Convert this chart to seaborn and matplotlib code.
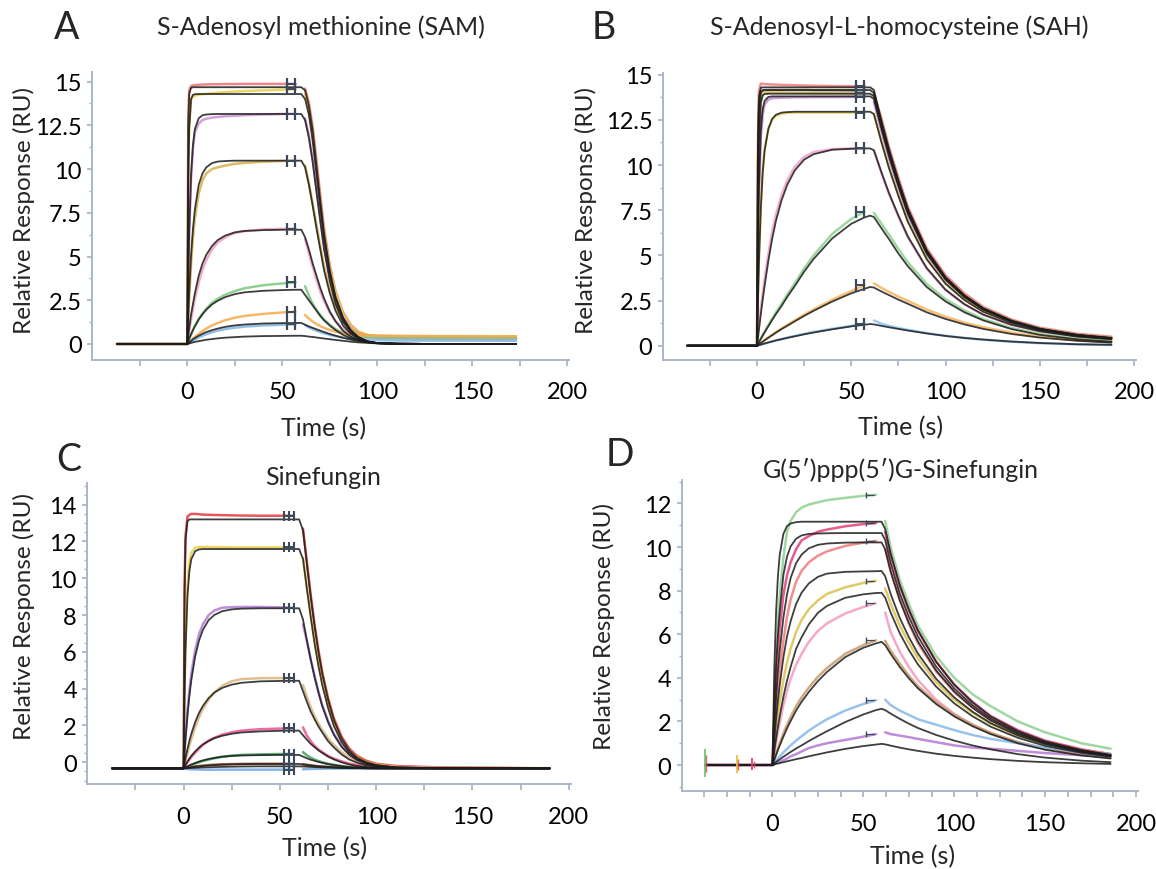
import numpy as np
import pandas as pd
import matplotlib
matplotlib.use("Agg")
import matplotlib.pyplot as plt
import seaborn as sns
from matplotlib.ticker import FixedLocator, FuncFormatter

# ---------------- A: S-Adenosyl methionine (SAM) ----------------
t_a_on = [-37, 0, 0.5, 1, 2, 3, 4, 6, 8, 10, 13, 16, 20, 25, 30, 40, 50, 57, 60]
t_a_off = [62, 64, 66, 68, 70, 72, 75, 78, 82, 86, 90, 95, 100, 110, 130, 173]
fit_a_on = [
    [0, 0, 12.5, 14.3, 14.65, 14.68, 14.68, 14.68, 14.68, 14.68, 14.68, 14.68, 14.68, 14.68, 14.68, 14.68, 14.68, 14.68, 14.68],
    [0, 0, 9.0, 12.3, 14.0, 14.25, 14.28, 14.29, 14.29, 14.29, 14.29, 14.29, 14.29, 14.29, 14.29, 14.29, 14.29, 14.29, 14.29],
    [0, 0, 3.7, 6.4, 9.7, 11.4, 12.3, 12.9, 13.08, 13.12, 13.14, 13.15, 13.15, 13.15, 13.15, 13.15, 13.15, 13.15, 13.15],
    [0, 0, 1.6, 3.0, 5.1, 6.6, 7.7, 9.1, 9.75, 10.1, 10.34, 10.43, 10.46, 10.48, 10.48, 10.48, 10.48, 10.48, 10.48],
    [0, 0, 0.47, 0.9, 1.7, 2.3, 2.9, 3.9, 4.6, 5.1, 5.6, 5.94, 6.2, 6.38, 6.46, 6.51, 6.53, 6.53, 6.53],
    [0, 0, 0.15, 0.3, 0.56, 0.8, 1.02, 1.4, 1.7, 1.96, 2.26, 2.47, 2.68, 2.85, 2.95, 3.04, 3.08, 3.1, 3.1],
    [0, 0, 0.05, 0.1, 0.18, 0.27, 0.34, 0.47, 0.58, 0.68, 0.79, 0.88, 0.98, 1.06, 1.11, 1.17, 1.19, 1.2, 1.2],
    [0, 0, 0.02, 0.03, 0.06, 0.09, 0.12, 0.16, 0.2, 0.24, 0.28, 0.32, 0.36, 0.39, 0.42, 0.45, 0.46, 0.47, 0.47],
]
fit_a_off = [
    [14.5, 13.6, 12.2, 10.2, 8.2, 6.3, 4.2, 2.7, 1.5, 0.8, 0.4, 0.15, 0.05, 0.01, 0, 0],
    [14.0, 13.1, 11.6, 9.7, 7.8, 6.0, 4.0, 2.6, 1.4, 0.75, 0.38, 0.14, 0.05, 0.01, 0, 0],
    [12.8, 11.8, 10.4, 8.7, 7.0, 5.4, 3.6, 2.3, 1.25, 0.68, 0.35, 0.13, 0.05, 0.01, 0, 0],
    [10.1, 9.1, 7.9, 6.6, 5.4, 4.2, 2.9, 1.9, 1.05, 0.58, 0.3, 0.12, 0.05, 0.01, 0, 0],
    [6.1, 5.4, 4.6, 3.9, 3.2, 2.6, 1.85, 1.3, 0.75, 0.42, 0.24, 0.1, 0.04, 0.01, 0, 0],
    [2.8, 2.5, 2.2, 1.9, 1.6, 1.35, 1.05, 0.8, 0.52, 0.33, 0.2, 0.1, 0.04, 0.01, 0, 0],
    [1.1, 1.0, 0.92, 0.84, 0.76, 0.68, 0.57, 0.47, 0.35, 0.25, 0.17, 0.1, 0.05, 0.02, 0, 0],
    [0.45, 0.42, 0.4, 0.37, 0.34, 0.31, 0.27, 0.23, 0.18, 0.13, 0.09, 0.06, 0.03, 0.01, 0, 0],
]
obs_a_on = [
    [0, 0, 12.8, 14.5, 14.75, 14.78, 14.8, 14.82, 14.83, 14.84, 14.85, 14.85, 14.86, 14.86, 14.87, 14.87, 14.87, 14.87],
    [0, 0, 9.2, 12.5, 14.0, 14.15, 14.2, 14.25, 14.28, 14.3, 14.33, 14.36, 14.4, 14.43, 14.46, 14.5, 14.54, 14.56],
    [0, 0, 3.5, 6.2, 9.5, 11.2, 12.1, 12.6, 12.8, 12.88, 12.94, 12.98, 13.02, 13.05, 13.08, 13.12, 13.15, 13.16],
    [0, 0, 1.4, 2.6, 4.6, 6.1, 7.2, 8.6, 9.35, 9.75, 10.0, 10.1, 10.2, 10.3, 10.35, 10.42, 10.46, 10.48],
    [0, 0, 0.4, 0.75, 1.4, 2.0, 2.6, 3.5, 4.25, 4.8, 5.4, 5.8, 6.1, 6.35, 6.45, 6.55, 6.58, 6.6],
    [0, 0, 0.15, 0.3, 0.55, 0.8, 1.02, 1.42, 1.75, 2.02, 2.35, 2.58, 2.82, 3.02, 3.18, 3.36, 3.46, 3.52],
    [0, 0, 0.05, 0.1, 0.2, 0.3, 0.4, 0.58, 0.74, 0.88, 1.06, 1.2, 1.36, 1.5, 1.6, 1.72, 1.8, 1.84],
    [0, 0, 0.04, 0.07, 0.14, 0.2, 0.26, 0.37, 0.47, 0.56, 0.67, 0.76, 0.85, 0.93, 0.99, 1.06, 1.1, 1.12],
]
obs_a_off = [
    [14.6, 13.8, 12.4, 10.5, 8.5, 6.6, 4.5, 3.0, 1.8, 1.1, 0.7, 0.5, 0.42, 0.38, 0.33, 0.3],
    [14.3, 13.4, 11.9, 10.0, 8.1, 6.3, 4.3, 2.9, 1.7, 1.05, 0.68, 0.5, 0.45, 0.42, 0.38, 0.36],
    [12.9, 11.9, 10.5, 8.8, 7.2, 5.6, 3.8, 2.5, 1.5, 0.9, 0.6, 0.42, 0.36, 0.33, 0.3, 0.28],
    [10.2, 9.2, 8.0, 6.8, 5.6, 4.4, 3.1, 2.1, 1.3, 0.85, 0.6, 0.5, 0.47, 0.45, 0.43, 0.42],
    [6.0, 5.2, 4.4, 3.7, 3.0, 2.45, 1.8, 1.3, 0.85, 0.6, 0.45, 0.38, 0.34, 0.32, 0.3, 0.28],
    [3.3, 2.75, 2.3, 1.95, 1.65, 1.4, 1.1, 0.85, 0.62, 0.48, 0.42, 0.38, 0.36, 0.35, 0.34, 0.33],
    [1.66, 1.45, 1.28, 1.14, 1.02, 0.92, 0.8, 0.7, 0.6, 0.54, 0.5, 0.48, 0.47, 0.46, 0.45, 0.44],
    [1.08, 0.95, 0.85, 0.76, 0.68, 0.61, 0.52, 0.45, 0.37, 0.31, 0.27, 0.24, 0.22, 0.2, 0.19, 0.18],
]
colors_a = ["#f07070", "#e6cf4a", "#cc8fd6", "#d9b04a", "#f29cc4", "#7cc77c", "#f7a94f", "#7fb5e6"]

# ---------------- B: S-Adenosyl-L-homocysteine (SAH) ----------------
t_b_on = [-37, 0, 0.5, 1, 2, 3, 4, 6, 8, 10, 13, 16, 20, 25, 30, 40, 50, 57, 60]
t_b_off = [62, 66, 70, 75, 80, 90, 100, 110, 120, 135, 150, 170, 188]
fit_b_on = [
    [0, 0, 11.2, 13.8, 14.28, 14.3, 14.3, 14.3, 14.3, 14.3, 14.3, 14.3, 14.3, 14.3, 14.3, 14.3, 14.3, 14.3, 14.3],
    [0, 0, 10.1, 13.0, 14.05, 14.14, 14.15, 14.15, 14.15, 14.15, 14.15, 14.15, 14.15, 14.15, 14.15, 14.15, 14.15, 14.15, 14.15],
    [0, 0, 7.6, 11.3, 13.45, 13.86, 13.93, 13.95, 13.95, 13.95, 13.95, 13.95, 13.95, 13.95, 13.95, 13.95, 13.95, 13.95, 13.95],
    [0, 0, 5.4, 8.7, 11.9, 13.1, 13.55, 13.77, 13.8, 13.8, 13.8, 13.8, 13.8, 13.8, 13.8, 13.8, 13.8, 13.8, 13.8],
    [0, 0, 2.5, 4.6, 7.6, 9.6, 10.8, 12.0, 12.55, 12.78, 12.9, 12.93, 12.95, 12.95, 12.95, 12.95, 12.95, 12.95, 12.95],
    [0, 0, 0.45, 0.9, 1.75, 2.55, 3.3, 4.7, 5.9, 6.9, 8.05, 8.9, 9.7, 10.3, 10.6, 10.85, 10.9, 10.92, 10.92],
    [0, 0, 0.1, 0.19, 0.38, 0.56, 0.74, 1.08, 1.42, 1.75, 2.2, 2.7, 3.3, 4.1, 4.8, 5.95, 6.75, 7.1, 7.2],
    [0, 0, 0.04, 0.08, 0.15, 0.22, 0.3, 0.44, 0.58, 0.72, 0.92, 1.1, 1.35, 1.65, 1.93, 2.45, 2.9, 3.15, 3.25],
    [0, 0, 0.01, 0.03, 0.06, 0.09, 0.12, 0.18, 0.23, 0.29, 0.36, 0.43, 0.52, 0.63, 0.73, 0.91, 1.07, 1.16, 1.2],
]
fit_b_off = [
    [14.16, 12.44, 10.87, 9.15, 7.58, 5.29, 3.79, 2.79, 2.07, 1.39, 0.94, 0.6, 0.43],
    [14.0, 12.31, 10.75, 9.06, 7.5, 5.24, 3.75, 2.76, 2.05, 1.37, 0.93, 0.59, 0.42],
    [13.81, 12.14, 10.6, 8.93, 7.39, 5.16, 3.7, 2.72, 2.02, 1.35, 0.92, 0.59, 0.42],
    [13.66, 12.0, 10.49, 8.83, 7.31, 5.1, 3.66, 2.69, 2.0, 1.34, 0.91, 0.58, 0.41],
    [12.82, 11.27, 9.84, 8.29, 6.86, 4.79, 3.43, 2.53, 1.88, 1.26, 0.85, 0.54, 0.39],
    [10.82, 9.6, 8.45, 7.2, 6.05, 4.3, 3.1, 2.3, 1.72, 1.16, 0.8, 0.5, 0.35],
    [7.12, 6.5, 5.9, 5.1, 4.4, 3.25, 2.45, 1.85, 1.4, 0.92, 0.6, 0.35, 0.22],
    [3.22, 3.0, 2.8, 2.55, 2.32, 1.85, 1.48, 1.18, 0.93, 0.65, 0.45, 0.27, 0.17],
    [1.18, 1.1, 1.02, 0.93, 0.84, 0.68, 0.54, 0.43, 0.34, 0.23, 0.15, 0.08, 0.05],
]
obs_b_on = [
    [0, 0, 11.5, 14.1, 14.5, 14.5, 14.48, 14.47, 14.46, 14.45, 14.44, 14.43, 14.42, 14.4, 14.39, 14.37, 14.36, 14.35],
    [0, 0, 10.0, 12.9, 14.0, 14.12, 14.14, 14.15, 14.15, 14.15, 14.15, 14.15, 14.15, 14.15, 14.14, 14.14, 14.13, 14.13],
    [0, 0, 7.8, 11.5, 13.5, 13.9, 13.97, 14.0, 14.0, 14.0, 13.99, 13.99, 13.98, 13.98, 13.97, 13.97, 13.96, 13.96],
    [0, 0, 5.0, 8.2, 11.5, 12.8, 13.35, 13.62, 13.7, 13.72, 13.73, 13.74, 13.75, 13.75, 13.76, 13.76, 13.77, 13.77],
    [0, 0, 2.6, 4.7, 7.7, 9.7, 10.9, 12.0, 12.5, 12.72, 12.84, 12.88, 12.9, 12.9, 12.9, 12.9, 12.9, 12.9],
    [0, 0, 0.55, 1.1, 2.05, 2.9, 3.7, 5.1, 6.3, 7.25, 8.35, 9.15, 9.9, 10.45, 10.72, 10.88, 10.92, 10.93],
    [0, 0, 0.1, 0.2, 0.4, 0.6, 0.78, 1.14, 1.5, 1.84, 2.32, 2.82, 3.45, 4.28, 5.0, 6.2, 7.02, 7.42],
    [0, 0, 0.04, 0.08, 0.16, 0.23, 0.31, 0.46, 0.6, 0.75, 0.96, 1.15, 1.4, 1.72, 2.0, 2.55, 3.02, 3.35],
    [0, 0, 0.01, 0.03, 0.06, 0.09, 0.12, 0.18, 0.24, 0.3, 0.37, 0.45, 0.54, 0.66, 0.76, 0.94, 1.1, 1.22],
]
obs_b_off = [
    [13.9, 12.6, 11.0, 9.3, 7.7, 5.4, 3.9, 2.9, 2.15, 1.45, 1.0, 0.66, 0.5],
    [13.95, 12.3, 10.75, 9.05, 7.5, 5.25, 3.76, 2.77, 2.06, 1.38, 0.94, 0.6, 0.44],
    [13.85, 12.2, 10.65, 8.97, 7.42, 5.18, 3.72, 2.74, 2.04, 1.37, 0.93, 0.6, 0.43],
    [13.5, 11.85, 10.35, 8.7, 7.2, 5.02, 3.6, 2.65, 1.97, 1.32, 0.9, 0.57, 0.4],
    [12.85, 11.3, 9.87, 8.32, 6.88, 4.81, 3.45, 2.55, 1.9, 1.28, 0.87, 0.56, 0.4],
    [10.8, 9.55, 8.4, 7.15, 6.0, 4.27, 3.08, 2.29, 1.71, 1.15, 0.79, 0.5, 0.35],
    [7.35, 6.75, 6.15, 5.35, 4.62, 3.42, 2.58, 1.95, 1.48, 0.98, 0.65, 0.38, 0.25],
    [3.45, 3.2, 2.98, 2.72, 2.48, 2.0, 1.6, 1.28, 1.02, 0.72, 0.5, 0.3, 0.2],
    [1.4, 1.22, 1.1, 0.98, 0.88, 0.7, 0.55, 0.43, 0.33, 0.22, 0.14, 0.07, 0.04],
]
colors_b = ["#f07a7a", "#7a6e3a", "#e0c25a", "#c58bd6", "#e8d45a", "#f2a0c8", "#8fd08f", "#f7b35a", "#92c3f0"]

# ---------------- C: Sinefungin ----------------
t_c_on = [-37, 0, 0.5, 1, 2, 3, 4, 6, 8, 10, 13, 16, 20, 25, 30, 40, 50, 57, 60]
t_c_off = [62, 64, 66, 68, 70, 72, 75, 78, 82, 86, 90, 95, 100, 110, 130, 190]
fit_c_on = [
    [-0.33, -0.33, 9.2, 12.1, 13.1, 13.2, 13.2, 13.2, 13.2, 13.2, 13.2, 13.2, 13.2, 13.2, 13.2, 13.2, 13.2, 13.2, 13.2],
    [-0.33, -0.33, 3.47, 6.07, 9.03, 10.4, 11.04, 11.47, 11.57, 11.59, 11.59, 11.59, 11.59, 11.59, 11.59, 11.59, 11.59, 11.59, 11.59],
    [-0.33, -0.33, 0.5, 1.25, 2.54, 3.6, 4.46, 5.75, 6.61, 7.19, 7.73, 8.01, 8.21, 8.31, 8.35, 8.37, 8.37, 8.37, 8.37],
    [-0.33, -0.33, -0.04, 0.23, 0.72, 1.16, 1.54, 2.18, 2.68, 3.06, 3.49, 3.79, 4.04, 4.22, 4.32, 4.4, 4.42, 4.43, 4.43],
    [-0.33, -0.33, -0.23, -0.14, 0.04, 0.2, 0.35, 0.59, 0.8, 0.97, 1.16, 1.31, 1.44, 1.55, 1.62, 1.68, 1.71, 1.72, 1.72],
    [-0.33, -0.33, -0.3, -0.27, -0.22, -0.17, -0.12, -0.04, 0.04, 0.1, 0.18, 0.24, 0.3, 0.35, 0.37, 0.39, 0.4, 0.4, 0.4],
    [-0.33, -0.33, -0.32, -0.31, -0.3, -0.28, -0.27, -0.24, -0.22, -0.2, -0.17, -0.15, -0.13, -0.11, -0.1, -0.09, -0.09, -0.09, -0.09],
    [-0.33, -0.33, -0.33, -0.32, -0.32, -0.31, -0.31, -0.3, -0.29, -0.28, -0.27, -0.26, -0.25, -0.24, -0.23, -0.22, -0.22, -0.22, -0.22],
]
fit_c_off = [
    [12.6, 10.8, 9.0, 7.4, 6.0, 4.8, 3.4, 2.3, 1.3, 0.65, 0.25, 0.0, -0.15, -0.28, -0.32, -0.33],
    [11.05, 9.44, 7.9, 6.46, 5.25, 4.19, 2.96, 1.98, 1.1, 0.53, 0.18, -0.04, -0.17, -0.28, -0.32, -0.33],
    [7.76, 6.63, 5.59, 4.63, 3.8, 3.06, 2.19, 1.5, 0.84, 0.41, 0.12, -0.09, -0.2, -0.29, -0.32, -0.33],
    [3.86, 3.29, 2.76, 2.34, 1.95, 1.62, 1.15, 0.81, 0.43, 0.15, -0.02, -0.16, -0.23, -0.31, -0.33, -0.33],
    [1.47, 1.23, 1.0, 0.82, 0.65, 0.51, 0.31, 0.16, 0.0, -0.12, -0.2, -0.26, -0.29, -0.32, -0.33, -0.33],
    [0.31, 0.22, 0.14, 0.08, 0.02, -0.03, -0.1, -0.15, -0.21, -0.26, -0.28, -0.3, -0.32, -0.33, -0.33, -0.33],
    [-0.12, -0.15, -0.17, -0.2, -0.22, -0.23, -0.25, -0.27, -0.29, -0.3, -0.31, -0.32, -0.33, -0.33, -0.33, -0.33],
    [-0.23, -0.24, -0.25, -0.26, -0.27, -0.28, -0.29, -0.3, -0.31, -0.32, -0.32, -0.33, -0.33, -0.33, -0.33, -0.33],
]
obs_c_on = [
    [-0.33, -0.33, 9.6, 12.3, 13.35, 13.45, 13.5, 13.5, 13.48, 13.46, 13.45, 13.44, 13.43, 13.42, 13.41, 13.4, 13.4, 13.4],
    [-0.33, -0.33, 3.8, 6.6, 9.6, 10.9, 11.4, 11.65, 11.7, 11.7, 11.7, 11.69, 11.69, 11.68, 11.68, 11.68, 11.68, 11.68],
    [-0.33, -0.33, 0.6, 1.4, 2.8, 3.9, 4.8, 6.1, 6.95, 7.5, 8.0, 8.25, 8.4, 8.43, 8.44, 8.44, 8.42, 8.4],
    [-0.33, -0.33, -0.1, 0.1, 0.5, 0.9, 1.25, 1.9, 2.45, 2.9, 3.4, 3.8, 4.15, 4.4, 4.52, 4.57, 4.58, 4.58],
    [-0.33, -0.33, -0.25, -0.17, 0.0, 0.14, 0.28, 0.52, 0.74, 0.95, 1.17, 1.33, 1.5, 1.63, 1.72, 1.8, 1.83, 1.85],
    [-0.33, -0.33, -0.33, -0.3, -0.25, -0.2, -0.15, -0.07, 0.0, 0.07, 0.15, 0.22, 0.3, 0.36, 0.4, 0.43, 0.45, 0.45],
    [-0.33, -0.33, -0.32, -0.31, -0.29, -0.27, -0.25, -0.22, -0.2, -0.18, -0.15, -0.13, -0.11, -0.1, -0.09, -0.08, -0.08, -0.08],
    [-0.33, -0.33, -0.35, -0.36, -0.37, -0.38, -0.38, -0.39, -0.39, -0.4, -0.4, -0.4, -0.4, -0.4, -0.4, -0.4, -0.4, -0.4],
]
obs_c_off = [
    [12.7, 10.9, 9.1, 7.5, 6.1, 4.9, 3.5, 2.4, 1.4, 0.75, 0.35, 0.08, -0.08, -0.2, -0.27, -0.33],
    [11.1, 9.55, 8.0, 6.6, 5.4, 4.35, 3.1, 2.1, 1.2, 0.6, 0.25, 0.0, -0.13, -0.25, -0.3, -0.32],
    [7.5, 6.6, 5.6, 4.7, 3.85, 3.1, 2.25, 1.55, 0.9, 0.45, 0.15, -0.07, -0.18, -0.28, -0.31, -0.33],
    [4.2, 3.55, 3.0, 2.5, 2.1, 1.75, 1.3, 0.95, 0.55, 0.25, 0.05, -0.1, -0.2, -0.28, -0.32, -0.33],
    [1.9, 1.45, 1.15, 0.9, 0.7, 0.55, 0.35, 0.2, 0.05, -0.07, -0.15, -0.22, -0.26, -0.3, -0.32, -0.33],
    [0.55, 0.38, 0.25, 0.15, 0.07, 0.0, -0.08, -0.14, -0.2, -0.25, -0.28, -0.3, -0.32, -0.33, -0.33, -0.33],
    [-0.1, -0.13, -0.16, -0.19, -0.21, -0.23, -0.25, -0.27, -0.29, -0.3, -0.31, -0.32, -0.33, -0.33, -0.33, -0.33],
    [-0.38, -0.37, -0.36, -0.36, -0.35, -0.35, -0.34, -0.34, -0.34, -0.34, -0.33, -0.33, -0.33, -0.33, -0.33, -0.33],
]
colors_c = ["#e23b3b", "#e8d040", "#b27ad6", "#d9b57a", "#e8528e", "#3fa060", "#a0522d", "#6fa8e0"]

# ---------------- D: G(5')ppp(5')G-Sinefungin ----------------
t_d_on = [-37, 0, 1, 2, 3, 4, 6, 8, 10, 13, 16, 20, 25, 30, 40, 50, 57, 60]
t_d_off = [62, 65, 70, 75, 80, 90, 100, 110, 120, 135, 150, 170, 186]
fit_d_on = [
    [0, 0, 4.4, 7.05, 8.67, 9.65, 10.6, 10.96, 11.08, 11.14, 11.16, 11.16, 11.16, 11.16, 11.16, 11.16, 11.16, 11.16],
    [0, 0, 2.64, 4.6, 6.0, 7.05, 8.72, 9.56, 10.03, 10.38, 10.53, 10.6, 10.62, 10.63, 10.64, 10.64, 10.64, 10.64],
    [0, 0, 1.69, 3.1, 4.3, 5.25, 6.76, 7.83, 8.58, 9.26, 9.65, 9.94, 10.1, 10.16, 10.2, 10.21, 10.21, 10.21],
    [0, 0, 1.12, 2.1, 2.95, 3.68, 4.93, 5.9, 6.6, 7.39, 7.9, 8.33, 8.63, 8.78, 8.86, 8.88, 8.89, 8.9],
    [0, 0, 0.64, 1.22, 1.76, 2.25, 3.13, 3.87, 4.5, 5.33, 5.86, 6.45, 6.98, 7.3, 7.67, 7.83, 7.89, 7.9],
    [0, 0, 0.24, 0.47, 0.69, 0.9, 1.3, 1.68, 2.02, 2.5, 2.9, 3.35, 3.85, 4.27, 4.95, 5.38, 5.58, 5.65],
    [0, 0, 0.07, 0.14, 0.2, 0.26, 0.38, 0.49, 0.6, 0.76, 0.9, 1.1, 1.33, 1.55, 1.97, 2.32, 2.52, 2.58],
    [0, 0, 0.02, 0.05, 0.07, 0.09, 0.13, 0.17, 0.21, 0.27, 0.32, 0.4, 0.49, 0.58, 0.74, 0.87, 0.94, 0.97],
]
fit_d_off = [
    [10.83, 9.71, 8.26, 7.14, 6.19, 4.74, 3.68, 2.88, 2.23, 1.56, 1.09, 0.69, 0.47],
    [10.32, 9.26, 7.87, 6.81, 5.9, 4.52, 3.51, 2.75, 2.13, 1.49, 1.04, 0.66, 0.45],
    [9.9, 8.88, 7.56, 6.53, 5.67, 4.34, 3.37, 2.63, 2.04, 1.43, 1.0, 0.63, 0.43],
    [8.66, 7.85, 6.75, 5.87, 5.12, 3.96, 3.1, 2.45, 1.92, 1.36, 0.96, 0.61, 0.42],
    [7.68, 7.0, 6.05, 5.28, 4.62, 3.6, 2.83, 2.24, 1.76, 1.25, 0.88, 0.56, 0.38],
    [5.5, 5.1, 4.5, 3.98, 3.52, 2.8, 2.23, 1.78, 1.42, 1.0, 0.7, 0.44, 0.3],
    [2.52, 2.36, 2.12, 1.9, 1.7, 1.38, 1.12, 0.9, 0.72, 0.5, 0.34, 0.2, 0.13],
    [0.95, 0.89, 0.8, 0.72, 0.65, 0.52, 0.42, 0.34, 0.27, 0.19, 0.13, 0.08, 0.05],
]
obs_d_on = [
    [0, 0, 2.5, 4.8, 6.6, 7.8, 9.5, 10.7, 11.2, 11.6, 11.8, 11.95, 12.05, 12.15, 12.25, 12.35, 12.4],
    [0, 0, 2.0, 3.8, 5.2, 6.3, 7.8, 8.7, 9.3, 9.9, 10.3, 10.5, 10.7, 10.8, 10.95, 11.05, 11.1],
    [0, 0, 1.2, 2.4, 3.4, 4.3, 5.7, 6.8, 7.6, 8.4, 8.9, 9.3, 9.6, 9.8, 10.05, 10.2, 10.28],
    [0, 0, 0.8, 1.6, 2.3, 2.9, 3.9, 4.7, 5.35, 6.1, 6.65, 7.15, 7.55, 7.85, 8.15, 8.35, 8.45],
    [0, 0, 0.5, 1.0, 1.5, 1.95, 2.75, 3.4, 3.95, 4.6, 5.1, 5.65, 6.15, 6.5, 6.95, 7.25, 7.42],
    [0, 0, 0.25, 0.5, 0.75, 1.0, 1.45, 1.85, 2.2, 2.7, 3.1, 3.55, 4.05, 4.45, 5.1, 5.5, 5.72],
    [0, 0, 0.1, 0.2, 0.3, 0.4, 0.58, 0.74, 0.9, 1.12, 1.32, 1.58, 1.85, 2.1, 2.5, 2.8, 2.97],
    [0, 0, 0.05, 0.1, 0.12, 0.15, 0.22, 0.3, 0.4, 0.5, 0.62, 0.78, 0.9, 1.0, 1.15, 1.3, 1.42],
]
obs_d_off = [
    [11.2, 10.0, 8.5, 7.4, 6.4, 5.0, 4.0, 3.25, 2.7, 2.0, 1.5, 1.0, 0.75],
    [10.7, 9.6, 8.2, 7.1, 6.15, 4.75, 3.7, 2.9, 2.25, 1.6, 1.12, 0.72, 0.5],
    [9.9, 8.9, 7.6, 6.5, 5.6, 4.3, 3.35, 2.65, 2.1, 1.5, 1.05, 0.7, 0.5],
    [8.1, 7.4, 6.4, 5.6, 4.9, 3.8, 3.0, 2.4, 1.9, 1.35, 0.98, 0.65, 0.45],
    [7.0, 6.1, 5.2, 4.5, 3.9, 3.0, 2.35, 1.85, 1.45, 1.05, 0.75, 0.5, 0.35],
    [5.7, 5.25, 4.65, 4.1, 3.62, 2.88, 2.3, 1.85, 1.48, 1.05, 0.75, 0.48, 0.33],
    [3.0, 2.75, 2.5, 2.3, 2.1, 1.85, 1.6, 1.38, 1.2, 1.0, 0.8, 0.6, 0.5],
    [1.5, 1.42, 1.35, 1.28, 1.2, 1.05, 0.9, 0.8, 0.75, 0.65, 0.55, 0.45, 0.4],
]
colors_d = ["#8fd18f", "#e0407a", "#f27a7a", "#d9c24e", "#f49ac0", "#c79a66", "#86b9ea", "#b478d4"]
# injection spikes in the D baseline
spike_t = [-37, -19.5, -11]
spike_lo = [-0.55, -0.35, -0.25]
spike_hi = [0.75, 0.45, 0.3]

# ---------------- figure ----------------
sns.set_theme(style="white")
plt.rcParams["font.family"] = ["Lato", "DejaVu Sans"]

W, H = 1156, 870
AXC = "#aab6c8"
MARK = "#3a4a5c"
TICK_FS = 17
LAB_FS = 17.5
fig = plt.figure(figsize=(W / 100, H / 100), dpi=100)


def add_axes(x0, x1, ytop, ybot):
    return fig.add_axes([x0 / W, 1 - ybot / H, (x1 - x0) / W, (ybot - ytop) / H])


def long_form(t_on, t_off, on_rows, off_rows, full_fit):
    rows = []
    for i, (a, b) in enumerate(zip(on_rows, off_rows)):
        name = f"c{i}"
        if full_fit:
            assert len(a) == len(t_on) and len(b) == len(t_off)
            for tt, v in zip(list(t_on) + list(t_off), list(a) + list(b)):
                rows.append((tt, v, name, name))
        else:
            assert len(a) == len(t_on) - 1 and len(b) == len(t_off)
            for tt, v in zip(t_on[:-1], a):
                rows.append((tt, v, name, name + "on"))
            for tt, v in zip(t_off, b):
                rows.append((tt, v, name, name + "off"))
    return pd.DataFrame(rows, columns=["t", "ru", "curve", "seg"])


def draw(ax, t_on, t_off, fit_on, fit_off, obs_on, obs_off, colors, mark_style):
    obs = long_form(t_on, t_off, obs_on, obs_off, False)
    fit = long_form(t_on, t_off, fit_on, fit_off, True)
    pal = {f"c{i}": c for i, c in enumerate(colors)}
    sns.lineplot(data=obs, x="t", y="ru", hue="curve", units="seg", estimator=None,
                 sort=False, palette=pal, lw=1.8, alpha=0.85, legend=False, ax=ax)
    sns.lineplot(data=fit, x="t", y="ru", units="seg", estimator=None, sort=False,
                 color="#1c1c1c", lw=1.3, alpha=0.85, legend=False, ax=ax)
    levels = [row[-1] for row in obs_on]
    for v in levels:
        if mark_style == "two":
            ax.plot([52.5, 56.5], [v, v], color=MARK, lw=1.4, marker="|", ms=9, mew=1.6, zorder=5)
        elif mark_style == "three":
            ax.plot([52.3, 54.9, 57.2], [v, v, v], color=MARK, lw=1.4, marker="|", ms=7, mew=1.5, zorder=5)
        else:
            ax.plot([51.5, 56], [v, v], color=MARK, lw=0.9, zorder=5)
            ax.plot([51.5], [v], color=MARK, marker="|", ms=4, mew=1.0, zorder=5)


def style(ax, ylim, ymajor, yminor, xminor):
    ax.set_xlim(-50, 201)
    ax.set_ylim(*ylim)
    ax.xaxis.set_major_locator(FixedLocator([0, 50, 100, 150, 200]))
    ax.xaxis.set_minor_locator(FixedLocator(xminor))
    ax.yaxis.set_major_locator(FixedLocator(ymajor))
    ax.yaxis.set_minor_locator(FixedLocator(yminor))
    ax.yaxis.set_major_formatter(FuncFormatter(lambda v, p: f"{v:g}"))
    for s in ["top", "right"]:
        ax.spines[s].set_visible(False)
    for s in ["left", "bottom"]:
        ax.spines[s].set_color(AXC)
        ax.spines[s].set_linewidth(1.4)
    ax.tick_params(which="both", color=AXC, labelcolor="black", direction="out",
                   bottom=True, left=True)
    ax.tick_params(axis="x", which="both", length=4.5, width=1.3, pad=11, labelsize=TICK_FS)
    ax.tick_params(axis="y", which="major", length=3.5, width=1.3, pad=4, labelsize=TICK_FS)
    ax.tick_params(axis="y", which="minor", length=2, width=1.0)
    ax.set_xlabel("")
    ax.set_ylabel("")
    ax.patch.set_alpha(0)


xm25 = [-25, 25, 75, 125, 175]
xm125 = [-37.5, -25, -12.5, 12.5, 25, 37.5, 62.5, 75, 87.5, 112.5, 125, 137.5, 162.5, 175, 187.5]

ax_a = add_axes(92.3, 569.2, 73, 360.7)
draw(ax_a, t_a_on, t_a_off, fit_a_on, fit_a_off, obs_a_on, obs_a_off, colors_a, "two")
style(ax_a, (-0.9, 15.55), [0, 2.5, 5, 7.5, 10, 12.5, 15],
      [1.25, 3.75, 6.25, 8.75, 11.25, 13.75], xm25)

ax_b = add_axes(662.8, 1135.9, 73.9, 360.8)
draw(ax_b, t_b_on, t_b_off, fit_b_on, fit_b_off, obs_b_on, obs_b_off, colors_b, "two")
style(ax_b, (-0.78, 15.1), [0, 2.5, 5, 7.5, 10, 12.5, 15],
      [1.25, 3.75, 6.25, 8.75, 11.25, 13.75], xm25)

ax_c = add_axes(87.3, 570.7, 483.6, 785)
draw(ax_c, t_c_on, t_c_off, fit_c_on, fit_c_off, obs_c_on, obs_c_off, colors_c, "three")
style(ax_c, (-1.18, 15.2), [0, 2, 4, 6, 8, 10, 12, 14],
      [v / 2 for v in range(-2, 31) if v % 4 != 0], xm25)

ax_d = add_axes(681.6, 1137.8, 481.5, 792.2)
draw(ax_d, t_d_on, t_d_off, fit_d_on, fit_d_off, obs_d_on, obs_d_off, colors_d, "small")
for x, lo, hi, c in zip(spike_t, spike_lo, spike_hi, ["#6cc46c", "#e8c040", "#e0407a"]):
    ax_d.vlines(x, lo, hi, color=c, lw=1.4, alpha=0.9)
    ax_d.vlines(x + 0.6, lo * 0.6, hi * 0.6, color="#e04050", lw=1.0, alpha=0.8)
style(ax_d, (-1.2, 13.05), [0, 2, 4, 6, 8, 10, 12], [-1, 1, 3, 5, 7, 9, 11, 13], xm125)

# texts
def ftext(x, y, s, size, **kw):
    fig.text(x / W, 1 - y / H, s, fontsize=size, ha="center", va="center", **kw)


ftext(67, 28, "A", 27)
ftext(604, 28, "B", 27)
ftext(69, 460, "C", 27)
ftext(620, 455, "D", 27)
ftext(321, 27, "S-Adenosyl methionine (SAM)", 18)
ftext(899, 27, "S-Adenosyl-L-homocysteine (SAH)", 18)
ftext(323, 478, "Sinefungin", 18)
ftext(901, 470, "G(5\u2032)ppp(5\u2032)G-Sinefungin", 18)
for x, y in [(24, 211), (586, 211), (24, 617), (604, 627)]:
    ftext(x, y, "Relative Response (RU)", LAB_FS, rotation=90)
for x, y in [(324, 429), (901, 428), (325, 849), (913, 857)]:
    ftext(x, y, "Time (s)", 18)

fig.savefig("out.png", dpi=100)
